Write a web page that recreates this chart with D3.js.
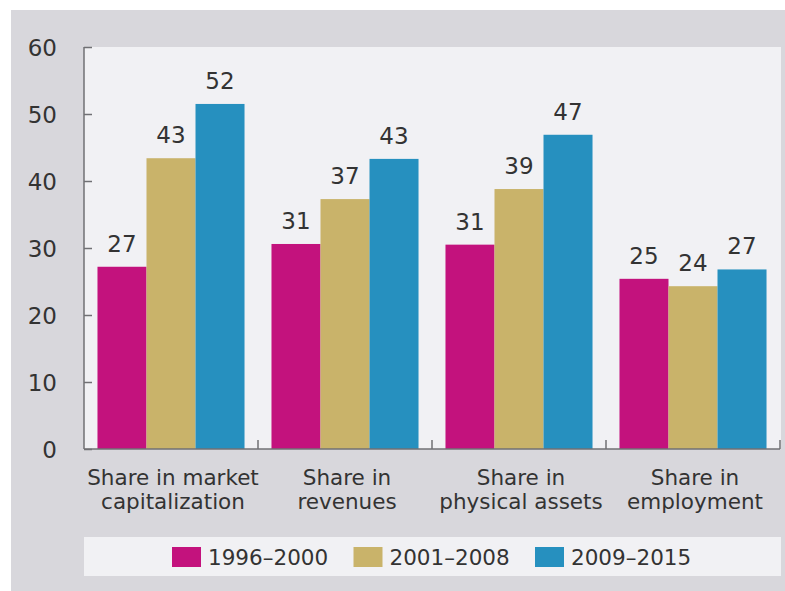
<!DOCTYPE html>
<html>
<head>
<meta charset="utf-8">
<script src="https://cdn.jsdelivr.net/npm/d3@7"></script>
<style>
  body { margin: 0; background: #fff; }
  svg text { font-family: "DejaVu Sans", sans-serif; fill: #333; }
</style>
</head>
<body>
<div id="chart"></div>
<script>
// categories (two lines each)
const categories = [
    ["Share in market", "capitalization"],
    ["Share in", "revenues"],
    ["Share in", "physical assets"],
    ["Share in", "employment"]
];
const periods = ["1996–2000", "2001–2008", "2009–2015"];
const colors = ["#c3127d", "#c9b36a", "#2690bf"];

// values per period, one per category
const values1996 = [27.2, 30.6, 30.5, 25.4];
const values2001 = [43.4, 37.3, 38.8, 24.3];
const values2009 = [51.5, 43.3, 46.9, 26.8];
const labels1996 = ["27", "31", "31", "25"];
const labels2001 = ["43", "37", "39", "24"];
const labels2009 = ["52", "43", "47", "27"];

const yTicks = [0, 10, 20, 30, 40, 50, 60];

const series = [values1996, values2001, values2009];
const seriesLabels = [labels1996, labels2001, labels2009];

const width = 785, height = 591;
const plot = { left: 84, right: 780, top: 47, bottom: 449 };

const svg = d3.select("#chart").append("svg")
    .attr("width", width)
    .attr("height", height);

// outer grey panel
svg.append("rect")
    .attr("x", 11).attr("y", 10)
    .attr("width", width - 11).attr("height", height - 10)
    .attr("fill", "#d8d7dc");

// plot background
svg.append("rect")
    .attr("x", plot.left).attr("y", plot.top)
    .attr("width", plot.right - plot.left + 1).attr("height", plot.bottom - plot.top)
    .attr("fill", "#f1f1f4");

const x0 = d3.scaleBand()
    .domain(d3.range(categories.length))
    .range([plot.left, plot.right])
    .paddingInner(0.155)
    .paddingOuter(0.0775);

const x1 = d3.scaleBand()
    .domain(d3.range(periods.length))
    .range([0, x0.bandwidth()]);

const y = d3.scaleLinear()
    .domain([0, 60])
    .range([plot.bottom, plot.top]);

// bars
const groups = svg.append("g").selectAll("g")
    .data(categories.map((c, i) => i))
    .join("g")
    .attr("transform", i => `translate(${x0(i)},0)`);

groups.selectAll("rect")
    .data(i => series.map((s, k) => ({ k: k, v: s[i], label: seriesLabels[k][i] })))
    .join("rect")
    .attr("x", d => x1(d.k))
    .attr("y", d => y(d.v))
    .attr("width", x1.bandwidth())
    .attr("height", d => y(0) - y(d.v))
    .attr("fill", d => colors[d.k]);

groups.selectAll("text")
    .data(i => series.map((s, k) => ({ k: k, v: s[i], label: seriesLabels[k][i] })))
    .join("text")
    .attr("x", d => x1(d.k) + x1.bandwidth() / 2)
    .attr("y", d => y(d.v) - 15)
    .attr("text-anchor", "middle")
    .style("font-size", "23px")
    .text(d => d.label);

// y axis
const yAxis = svg.append("g")
    .attr("transform", `translate(${plot.left},0)`)
    .call(d3.axisRight(y).tickValues(yTicks).tickSize(8).tickFormat(d3.format("d")));
yAxis.select(".domain").remove();
yAxis.selectAll("line").attr("stroke", "#707074").attr("stroke-width", 1.5);
yAxis.selectAll("text")
    .attr("x", 57 - plot.left)
    .attr("dy", "0.35em")
    .attr("text-anchor", "end")
    .style("font-size", "23px")
    .style("font-family", "DejaVu Sans, sans-serif")
    .attr("fill", "#333");

svg.append("line")
    .attr("x1", plot.left).attr("x2", plot.left)
    .attr("y1", plot.top).attr("y2", plot.bottom)
    .attr("stroke", "#707074").attr("stroke-width", 1.5);

// x axis baseline and separators
svg.append("line")
    .attr("x1", plot.left).attr("x2", plot.right)
    .attr("y1", plot.bottom).attr("y2", plot.bottom)
    .attr("stroke", "#707074").attr("stroke-width", 1.5);

const step = x0.step();
svg.append("g").selectAll("line")
    .data(d3.range(1, categories.length + 1))
    .join("line")
    .attr("x1", i => plot.left + i * step)
    .attr("x2", i => plot.left + i * step)
    .attr("y1", plot.bottom - 9)
    .attr("y2", plot.bottom)
    .attr("stroke", "#707074").attr("stroke-width", 1.5);

// category labels
const catLabels = svg.append("g").selectAll("text")
    .data(categories)
    .join("text")
    .attr("text-anchor", "middle")
    .style("font-size", "21.5px");
catLabels.selectAll("tspan")
    .data((d, i) => d.map(line => ({ line: line, i: i })))
    .join("tspan")
    .attr("x", d => x0(d.i) + x0.bandwidth() / 2 + 2)
    .attr("y", (d, j) => 485 + j * 24)
    .text(d => d.line);

// legend
svg.append("rect")
    .attr("x", 84).attr("y", 537)
    .attr("width", 697).attr("height", 39)
    .attr("fill", "#f1f1f4");

const legend = svg.append("g").selectAll("g")
    .data(periods)
    .join("g")
    .attr("transform", (d, i) => `translate(${172 + i * 181.5},0)`);

legend.append("rect")
    .attr("x", 0).attr("y", 547)
    .attr("width", 29).attr("height", 20)
    .attr("fill", (d, i) => colors[i]);

legend.append("text")
    .attr("x", 36).attr("y", 565)
    .style("font-size", "21.5px")
    .text(d => d);
</script>
</body>
</html>
